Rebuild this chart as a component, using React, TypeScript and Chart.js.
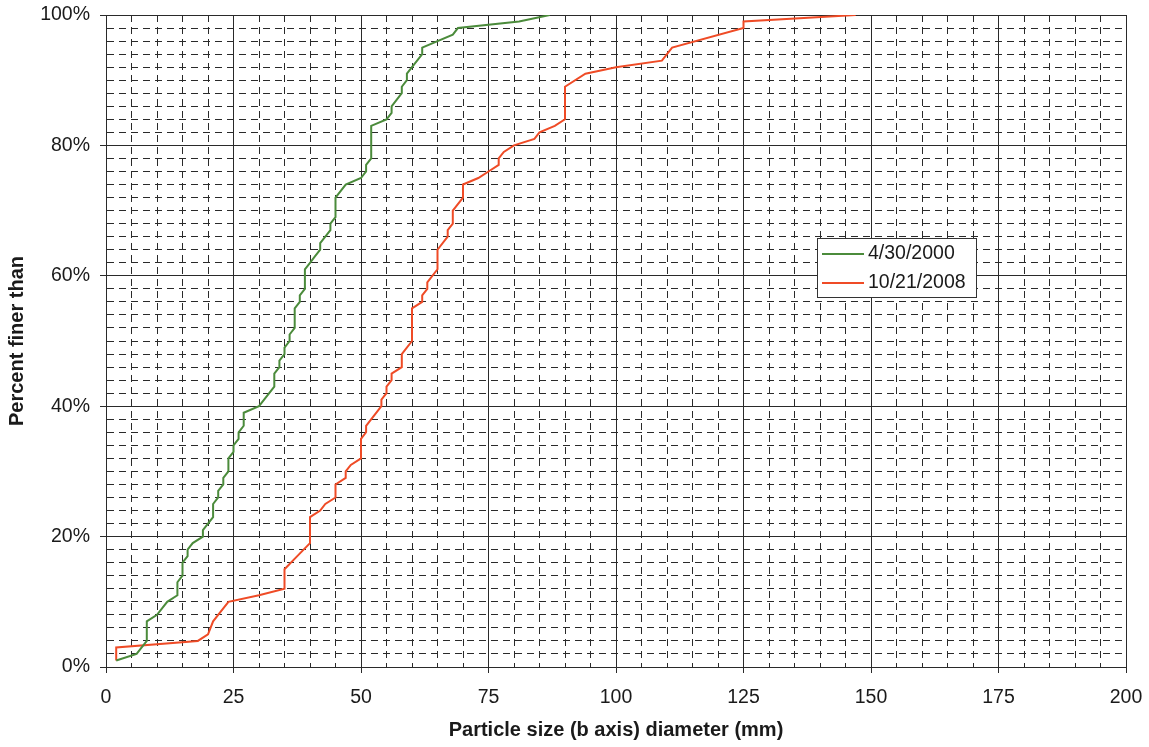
import React, { useEffect, useRef } from "react";
import { Chart, registerables } from "chart.js";

Chart.register(...registerables);

// ---- data ----
const seriesLabels = ["4/30/2000", "10/21/2008"];
const seriesColors = ["#4b8b3b", "#ef4b26"];

const green2000X = [2, 6, 8, 8, 10, 12, 14, 14, 15, 15, 16, 16, 17, 19, 19, 20, 21, 21, 22, 22, 23, 23, 24, 24, 25, 25, 26, 26, 27, 27, 30, 33, 33, 34, 34, 35, 35, 36, 36, 37, 37, 38, 38, 39, 39, 40, 41, 42, 42, 44, 44, 45, 45, 47, 50, 51, 51, 52, 52, 55, 56, 56, 58, 58, 59, 59, 62, 62, 68, 69, 81, 87];
const green2000Y = [1, 2, 4, 7, 8, 10, 11, 13, 14, 16, 17, 18, 19, 20, 21, 22, 23, 25, 26, 27, 28, 29, 30, 32, 33, 34, 35, 36, 37, 39, 40, 43, 45, 46, 47, 48, 49, 50, 51, 52, 55, 56, 57, 58, 61, 62, 63, 64, 65, 67, 68, 69, 72, 74, 75, 76, 77, 78, 83, 84, 85, 86, 88, 89, 90, 91, 94, 95, 97, 98, 99, 100];

const red2008X = [2, 2, 18, 20, 21, 24, 30, 35, 35, 37.5, 40, 40, 42, 43, 45, 45, 47, 47, 48, 50, 50, 51, 51, 54, 54, 55, 55, 56, 56, 58, 58, 60, 60, 62, 62, 63, 63, 65, 65, 67, 67, 68, 68, 70, 70, 73, 75, 77, 77, 78, 80, 84, 85, 88, 90, 90, 94, 100, 109, 111, 125, 125, 147];
const red2008Y = [1, 3, 4, 5, 7, 10, 11, 12, 15, 17, 19, 23, 24, 25, 26, 28, 29, 30, 31, 32, 35, 36, 37, 40, 41, 42, 43, 44, 45, 46, 48, 50, 55, 56, 57, 58, 59, 61, 64, 66, 67, 68, 70, 72, 74, 75, 76, 77, 78, 79, 80, 81, 82, 83, 84, 89, 91, 92, 93, 95, 98, 99, 100];

const xMin = 0, xMax = 200, xMinorStep = 5, xMajorStep = 25;
const yMin = 0, yMax = 100, yMinorStep = 2, yMajorStep = 20;
const xTitle = "Particle size (b axis) diameter (mm)";
const yTitle = "Percent finer than";

const FONT = "'Liberation Sans', Arial, Helvetica, sans-serif";
const GRID = "#2a2a2a";
const TEXT = "#1a1a1a";

const toPoints = (xs: number[], ys: number[]) => xs.map((x, i) => ({ x, y: ys[i] }));

const isMajor = (v: number, step: number) => Math.abs(Math.round(v) % step) === 0 && Math.abs(v - Math.round(v)) < 1e-6;

const legendBoxPlugin = {
  id: "legendBox",
  afterDraw(chart: any) {
    const ctx = chart.ctx;
    const bx = 817.5, by = 238.5, bw = 159, bh = 59;
    ctx.save();
    ctx.fillStyle = "#ffffff";
    ctx.fillRect(bx, by, bw, bh);
    ctx.strokeStyle = "#333333";
    ctx.lineWidth = 1;
    ctx.strokeRect(bx, by, bw, bh);
    chart.data.datasets.forEach((ds: any, i: number) => {
      const y = 254 + i * 29;
      ctx.strokeStyle = ds.borderColor;
      ctx.lineWidth = 2;
      ctx.beginPath();
      ctx.moveTo(822, y);
      ctx.lineTo(864, y);
      ctx.stroke();
      ctx.fillStyle = TEXT;
      ctx.font = `19.5px ${FONT}`;
      ctx.textBaseline = "middle";
      ctx.textAlign = "left";
      ctx.fillText(ds.label, 868, y);
    });
    ctx.restore();
  },
};

export default function App() {
  const canvasRef = useRef<HTMLCanvasElement | null>(null);

  useEffect(() => {
    const canvas = canvasRef.current;
    if (!canvas) return;
    const chart = new Chart(canvas, {
      type: "scatter",
      data: {
        datasets: [
          {
            label: seriesLabels[0],
            data: toPoints(green2000X, green2000Y),
            borderColor: seriesColors[0],
            backgroundColor: seriesColors[0],
            showLine: true,
            borderWidth: 2,
            pointRadius: 0,
            tension: 0,
          },
          {
            label: seriesLabels[1],
            data: toPoints(red2008X, red2008Y),
            borderColor: seriesColors[1],
            backgroundColor: seriesColors[1],
            showLine: true,
            borderWidth: 2,
            pointRadius: 0,
            tension: 0,
          },
        ],
      },
      options: {
        animation: false,
        responsive: false,
        devicePixelRatio: 1,
        layout: { padding: { left: 0, top: 15, right: 23, bottom: 0 } },
        plugins: { legend: { display: false }, tooltip: { enabled: false } },
        scales: {
          x: {
            type: "linear",
            min: xMin,
            max: xMax,
            afterFit: (s: any) => {
              s.height = 80;
              s.paddingLeft = 0;
              s.paddingRight = 0;
            },
            ticks: {
              stepSize: xMinorStep,
              autoSkip: false,
              maxRotation: 0,
              padding: 13,
              color: TEXT,
              font: { family: FONT, size: 19.5 },
              callback: (v: any) => (isMajor(Number(v), xMajorStep) ? String(v) : ""),
            },
            grid: {
              color: GRID,
              lineWidth: 1,
              drawTicks: true,
              tickLength: 6,
              tickColor: (c: any) => (c.tick && isMajor(c.tick.value, xMajorStep) ? GRID : "rgba(0,0,0,0)"),
            },
            border: {
              display: true,
              color: GRID,
              width: 1,
              dash: (c: any) => (c.tick && !isMajor(c.tick.value, xMajorStep) ? [7, 5] : []),
            },
            title: {
              display: true,
              text: xTitle,
              color: TEXT,
              font: { family: FONT, size: 20, weight: "bold" },
              padding: { top: 0, bottom: 5 },
            },
          },
          y: {
            type: "linear",
            min: yMin,
            max: yMax,
            afterFit: (s: any) => {
              s.width = 106;
              s.paddingTop = 0;
              s.paddingBottom = 0;
            },
            ticks: {
              stepSize: yMinorStep,
              autoSkip: false,
              padding: 10,
              color: TEXT,
              font: { family: FONT, size: 19.5 },
              callback: (v: any) => (isMajor(Number(v), yMajorStep) ? `${v}%` : ""),
            },
            grid: {
              color: GRID,
              lineWidth: 1,
              drawTicks: true,
              tickLength: 6,
              tickColor: (c: any) => (c.tick && isMajor(c.tick.value, yMajorStep) ? GRID : "rgba(0,0,0,0)"),
            },
            border: {
              display: true,
              color: GRID,
              width: 1,
              dash: (c: any) => (c.tick && !isMajor(c.tick.value, yMajorStep) ? [7, 5] : []),
            },
            title: {
              display: true,
              text: yTitle,
              color: TEXT,
              font: { family: FONT, size: 20, weight: "bold" },
              padding: { top: 5, bottom: 0 },
            },
          },
        },
      } as any,
      plugins: [legendBoxPlugin],
    });
    return () => chart.destroy();
  }, []);

  return (
    <div style={{ position: "fixed", left: 0, top: 0, width: 1149, height: 747, background: "#fff" }}>
      <canvas ref={canvasRef} width={1149} height={747} style={{ width: 1149, height: 747, display: "block" }} />
    </div>
  );
}
